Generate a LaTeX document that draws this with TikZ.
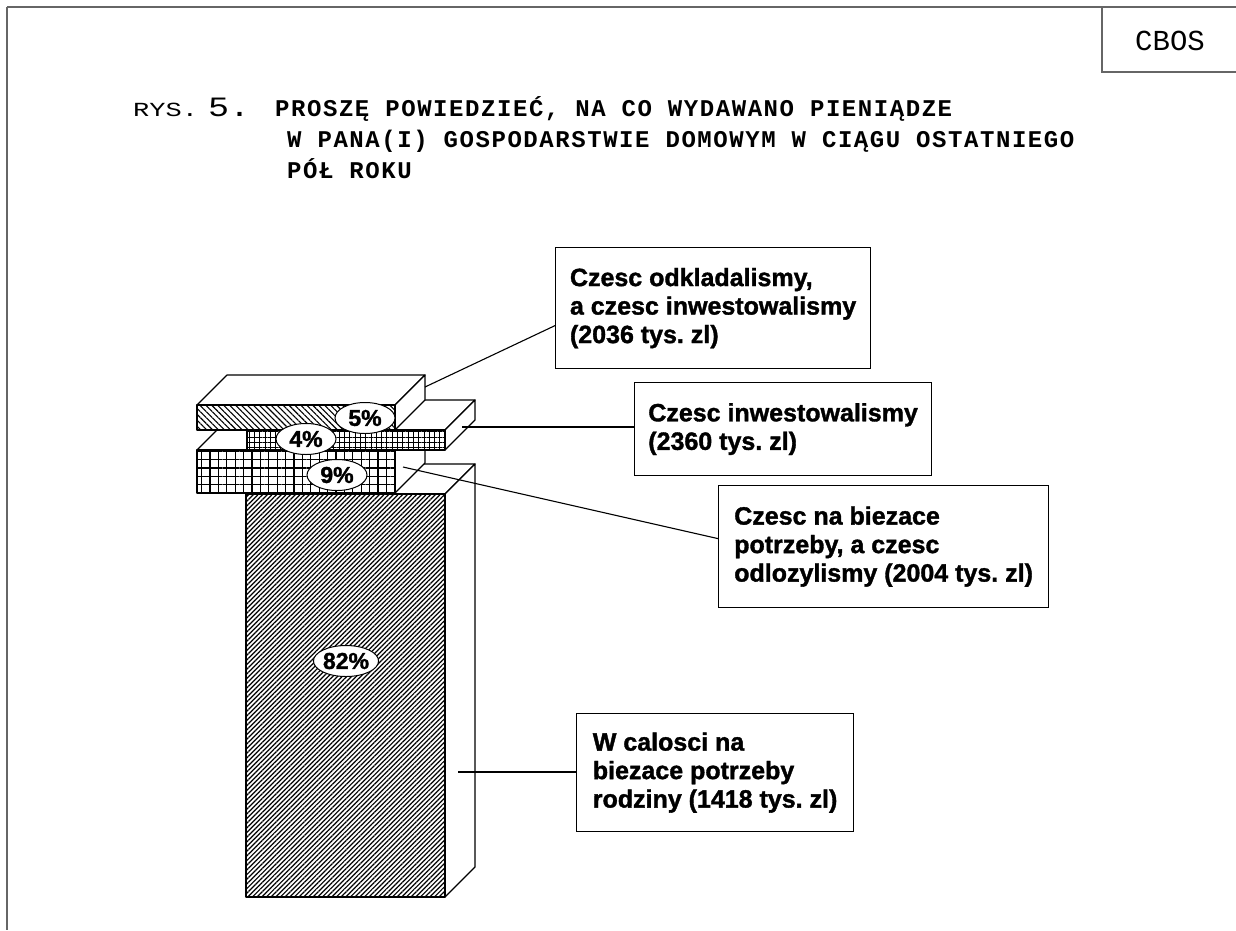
\documentclass[tikz,border=0pt]{standalone}
\usepackage{fontspec}
\usepackage{graphicx}
\setmainfont{Liberation Sans}[BoldFeatures={FakeBold=1.4}]
\newfontfamily\monofont{Liberation Mono}
\newfontfamily\titlefont[LetterSpace=6.5]{Liberation Mono}
\usetikzlibrary{shapes.geometric}
\usetikzlibrary{patterns.meta}
\usetikzlibrary{calc}
\frenchspacing

\begin{document}
\begin{tikzpicture}[
    x=1pt, y=-1pt,
    frame/.style={draw=black!60, line width=1.5pt},
    face/.style={draw, line width=1.2pt, fill=white, line join=round},
    patface/.style={draw, line width=1.2pt, line join=round, preaction={fill=white}},
    hatchfine/.style={patface, pattern={Lines[angle=45, distance=3.3pt, line width=1.2pt]}},
    hatchback/.style={patface, pattern={Lines[angle=-45, distance=4.2pt, line width=1.1pt]}},
    gridfine/.style={patface, pattern={Hatch[angle=0, distance=5.3pt, line width=1pt]}},
    gridwide/.style={patface, pattern={Hatch[angle=0, distance=8.4pt, line width=1.2pt]}},
    pct/.style={ellipse, draw, line width=1pt, fill=white, inner sep=0pt, minimum width=60pt, minimum height=31pt, font=\fontsize{23}{23}\selectfont\bfseries},
    lbl/.style={rectangle, draw, line width=1.2pt, fill=white, align=left, anchor=north west, inner sep=0pt, font=\fontsize{25}{28.5}\selectfont\bfseries},
    line/.style={line width=1.1pt}
]
\useasboundingbox (0,0) rectangle (1236,930);

% page frame and CBOS corner
\draw[frame] (7,7) -- (1236,7);
\draw[frame] (7,7) -- (7,930);
\draw[frame] (1102,7) -- (1102,72) -- (1236,72);
\node[font=\monofont\fontsize{29}{29}\selectfont] (cbos) at (1170,41) {CBOS};

% title
\node[anchor=base west, inner sep=0pt, font=\monofont\fontsize{20}{20}\selectfont] (rys) at (133,116) {\scalebox{1.35}[1]{RYS.}};
\node[anchor=base west, inner sep=0pt, font=\monofont\fontsize{28}{28}\selectfont] (nr) at (208,116) {\scalebox{1.25}[1]{5.}};
\node[anchor=base west, inner sep=0pt, font=\titlefont\bfseries\fontsize{24}{24}\selectfont] (tyt1) at (275,116) {PROSZĘ POWIEDZIEĆ, NA CO WYDAWANO PIENIĄDZE};
\node[anchor=base west, inner sep=0pt, font=\titlefont\bfseries\fontsize{24}{24}\selectfont] (tyt2) at (287,147) {W PANA(I) GOSPODARSTWIE DOMOWYM W CIĄGU OSTATNIEGO};
\node[anchor=base west, inner sep=0pt, font=\titlefont\bfseries\fontsize{24}{24}\selectfont] (tyt3) at (287,178) {PÓŁ ROKU};

% 82% column
\draw[face] (246,494) -- (276,464) -- (475,464) -- (445,494) -- cycle;
\draw[face] (445,494) -- (475,464) -- (475,867) -- (445,897) -- cycle;
\draw[hatchfine] (246,494) rectangle (445,897);

% 9% slab
\draw[face] (197,450) -- (227,420) -- (425,420) -- (395,450) -- cycle;
\draw[face] (395,450) -- (425,420) -- (425,463) -- (395,493) -- cycle;
\draw[gridwide] (197,450) rectangle (395,493);

% 4% slab
\draw[face] (247,430) -- (277,400) -- (475,400) -- (445,430) -- cycle;
\draw[face] (445,430) -- (475,400) -- (475,420) -- (445,450) -- cycle;
\draw[gridfine] (247,430) rectangle (445,450);

% 5% slab
\draw[face] (197,405) -- (227,375) -- (425,375) -- (395,405) -- cycle;
\draw[face] (395,405) -- (425,375) -- (425,400) -- (395,430) -- cycle;
\draw[hatchback] (197,405) rectangle (395,430);

% percentages
\node[pct] (p5) at (365,418) {5\%};
\node[pct] (p4) at (306,439) {4\%};
\node[pct] (p9) at (337,475) {9\%};
\node[pct] (p82) at (346,661) {82\%};

% label boxes
\node[lbl, minimum width=315pt, minimum height=121pt] (odkl) at (555,247) {Czesc odkladalismy,\\a czesc inwestowalismy\\(2036 tys. zl)};
\node[lbl, minimum width=297pt, minimum height=93pt] (inwe) at (634,382) {Czesc inwestowalismy\\(2360 tys. zl)};
\node[lbl, minimum width=330pt, minimum height=122pt] (biez) at (718,485) {Czesc na biezace\\potrzeby, a czesc\\odlozylismy (2004 tys. zl)};
\node[lbl, minimum width=277pt, minimum height=118pt] (calo) at (576,713) {W calosci na\\biezace potrzeby\\rodziny (1418 tys. zl)};

% leader lines
\coordinate (s5) at (425,387);
\coordinate (s4) at (462,427);
\coordinate (s9) at (403,467);
\coordinate (s82) at (458,772);
\draw[line] (s5) -- ([yshift=-17.5pt]odkl.west);
\draw[line] (s4) -- (s4 -| inwe.west);
\draw[line] (s9) -- ([yshift=8pt]biez.west);
\draw[line] (s82) -- (s82 -| calo.west);

\end{tikzpicture}
\end{document}
